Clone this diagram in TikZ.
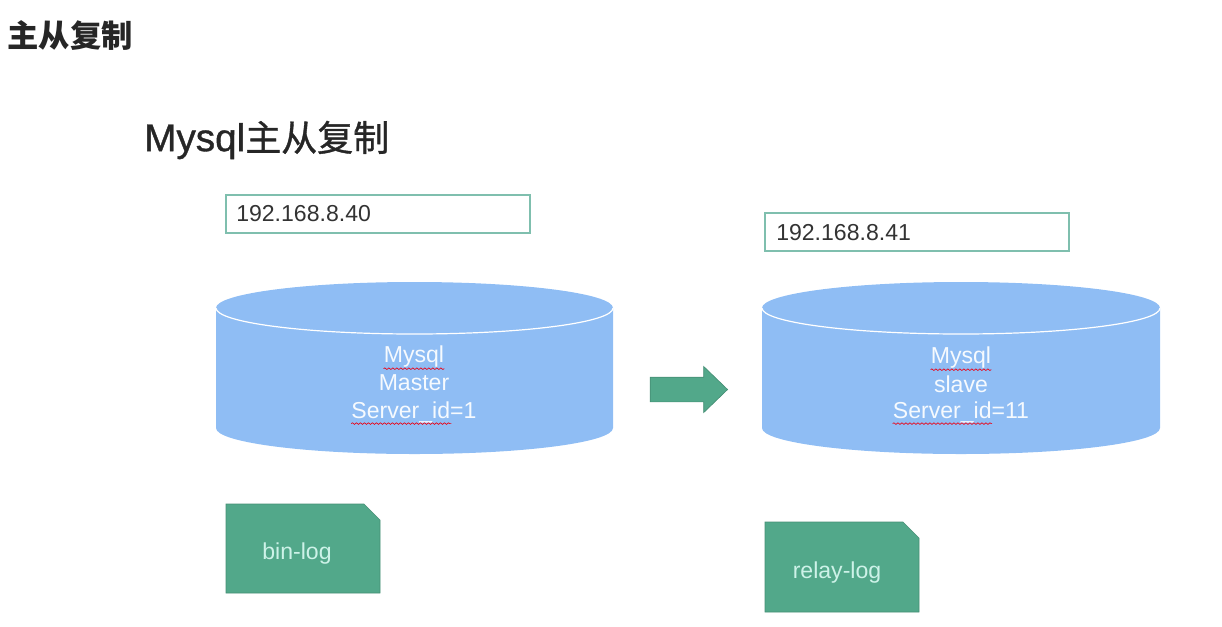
\documentclass[tikz,border=0pt]{standalone}
\usepackage{fontspec}
\setmainfont{Liberation Sans}
\newfontfamily\cjkfont{Noto Sans CJK SC}
\newfontfamily\cjktitle[FakeBold=1]{Noto Sans CJK SC}
\newfontfamily\lattitle[FakeBold=1]{Liberation Sans}
\usetikzlibrary{shapes.arrows}
\usetikzlibrary{decorations.pathmorphing}
\definecolor{dbblue}{HTML}{8FBDF4}
\definecolor{loggreen}{HTML}{52A88A}
\definecolor{boxline}{HTML}{7FBFAE}
\definecolor{logtext}{HTML}{CDF2E8}
\tikzset{
    heading/.style = {inner sep=0pt,font=\cjkfont\bfseries\fontsize{23.5}{28}\selectfont,text=black!85},
    title/.style = {inner sep=0pt,text=black!85},
    ipbox/.style = {rectangle,draw=boxline,line width=1pt,fill=white,minimum width=228pt,minimum height=28.5pt,inner sep=0pt},
    iptext/.style = {inner sep=0pt,font=\fontsize{17.3}{20}\selectfont,text=black!80},
    dbbody/.style = {fill=dbblue},
    dbrim/.style = {white,line width=0.9pt},
    dbtext/.style = {inner sep=0pt,font=\fontsize{17.3}{20}\selectfont,text=white!92!dbblue},
    logbox/.style = {fill=loggreen,draw=loggreen!85!black,line width=0.5pt},
    logname/.style = {inner sep=0pt,font=\fontsize{17.3}{20}\selectfont,text=logtext},
    movearrow/.style = {single arrow,single arrow tip angle=88,single arrow head extend=8pt,single arrow head indent=0pt,fill=loggreen,draw=loggreen!85!black,line width=0.5pt,inner xsep=0pt,inner ysep=9pt,minimum height=58pt},
    squiggle/.style = {red!70!purple,line width=0.5pt,decorate,decoration={snake,amplitude=0.6pt,segment length=3pt}},
}

\begin{document}
\begin{tikzpicture}[x=0.75pt,y=-0.75pt]
\useasboundingbox (0,0) rectangle (1222,626);
\node[heading] at (70, 36) (head) {主从复制};
\node[title, anchor=west] at (144, 140) (title) {\fontsize{29}{32}\selectfont\lattitle Mysql\fontsize{27}{32}\selectfont\cjktitle 主从复制};
%
\node[ipbox] at (378, 214) (ipm) {};
\node[iptext, anchor=west] at (236, 214) (ipmt) {192.168.8.40};
\node[ipbox] at (917, 232) (ips) {};
\node[iptext, anchor=west] at (776, 233) (ipst) {192.168.8.41};
%
\fill[dbbody] (216, 308) arc[start angle=180,end angle=360,x radius=198.5,y radius=26] -- (613, 428) arc[start angle=0,end angle=180,x radius=198.5,y radius=26] -- cycle;
\draw[dbrim] (216, 308) arc[start angle=180,end angle=0,x radius=198.5,y radius=26];
\fill[dbbody] (762, 308) arc[start angle=180,end angle=360,x radius=199,y radius=26] -- (1160, 428) arc[start angle=0,end angle=180,x radius=199,y radius=26] -- cycle;
\draw[dbrim] (762, 308) arc[start angle=180,end angle=0,x radius=199,y radius=26];
%
\node[dbtext] at (414, 357) (m1) {Mysql};
\node[dbtext] at (414, 383) (m2) {Master};
\node[dbtext] at (414, 412) (m3) {Server\_id=1};
\node[dbtext] at (961, 358) (s1) {Mysql};
\node[dbtext] at (961, 384) (s2) {slave};
\node[dbtext] at (961, 412) (s3) {Server\_id=11};
\draw[squiggle] ([yshift=-0.5pt]m1.south west) -- ([yshift=-0.5pt]m1.south east);
\draw[squiggle] ([yshift=-0.5pt]m3.south west) -- ([xshift=-19pt,yshift=-0.5pt]m3.south east);
\draw[squiggle] ([yshift=-0.5pt]s1.south west) -- ([yshift=-0.5pt]s1.south east);
\draw[squiggle] ([yshift=-0.5pt]s3.south west) -- ([xshift=-28pt,yshift=-0.5pt]s3.south east);
%
\node[movearrow] at (682.5, 389.5) (move) {};
%
\draw[logbox] (226, 504) -- (364, 504) -- (380, 520) -- (380, 593) -- (226, 593) -- cycle;
\node[logname] at (297, 554) (binlog) {bin-log};
\draw[logbox] (765, 522) -- (903, 522) -- (919, 538) -- (919, 612) -- (765, 612) -- cycle;
\node[logname] at (837, 573) (relaylog) {relay-log};
\end{tikzpicture}
\end{document}
